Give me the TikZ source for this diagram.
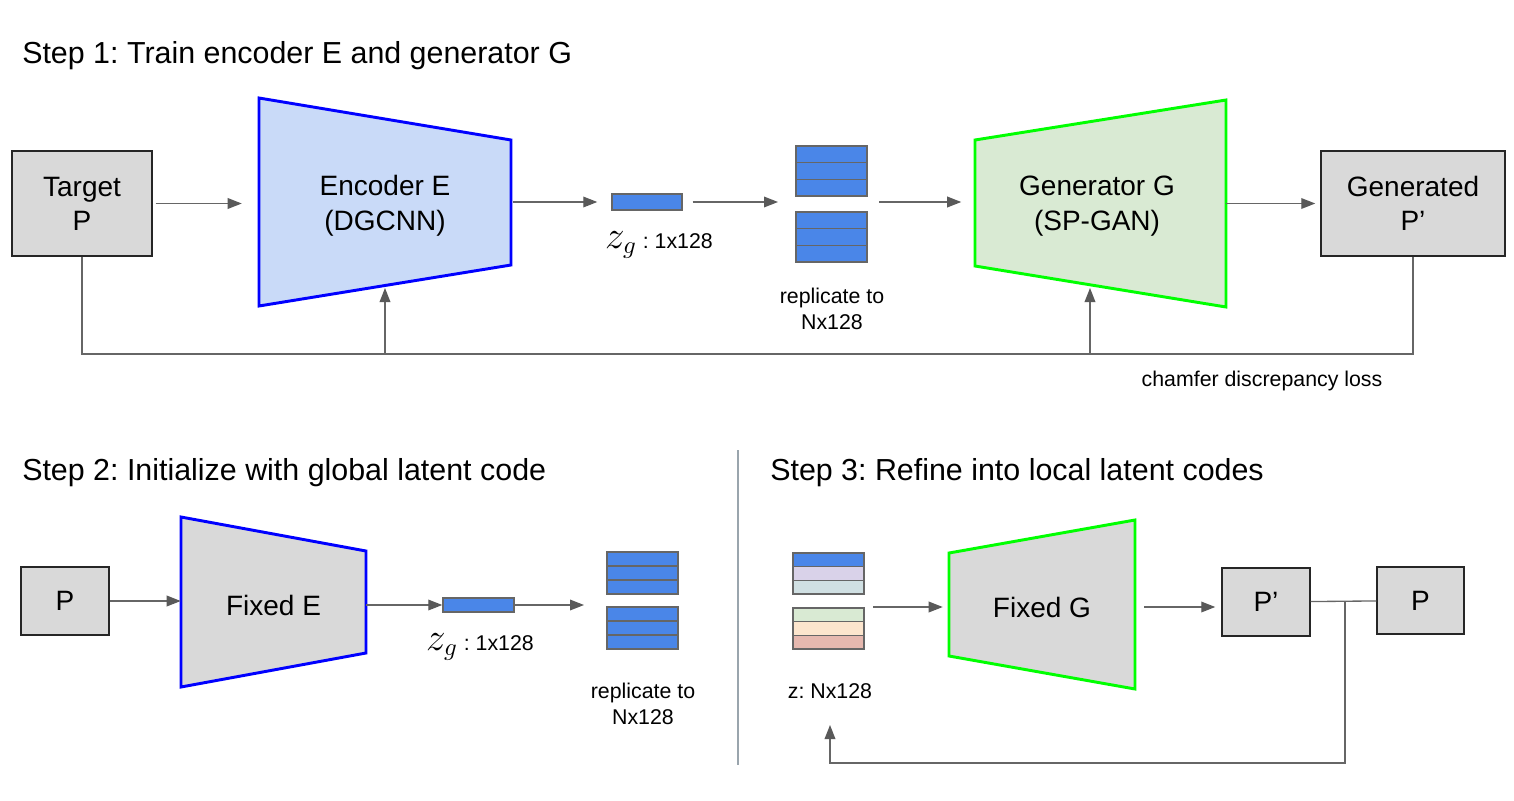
\documentclass[tikz,border=0pt]{standalone}
\usepackage{amsmath}
\usepackage{graphicx}
\usepackage{fontspec}
\setmainfont{Liberation Sans}
\usepackage{xcolor}
\usepackage{tikz}
\usetikzlibrary{calc,arrows.meta,fit}
\frenchspacing
\definecolor{boxgray}{HTML}{D9D9D9}
\definecolor{linegray}{HTML}{666666}
\definecolor{tipgray}{HTML}{595959}
\definecolor{encfill}{HTML}{C9DAF8}
\definecolor{genfill}{HTML}{D9EAD3}
\definecolor{encblue}{HTML}{0000FF}
\definecolor{genlime}{HTML}{00FF00}
\definecolor{zblue}{HTML}{4A86E8}
\definecolor{lav}{HTML}{D9D2E9}
\definecolor{ice}{HTML}{D0E0E3}
\definecolor{mint}{HTML}{D9EAD3}
\definecolor{peach}{HTML}{FCE5CD}
\definecolor{rose}{HTML}{E6B8AF}
\definecolor{divgray}{HTML}{9AA5AD}
\newcommand{\zg}{\scalebox{1.7}{$z_g$}}
\tikzset{
  title/.style={anchor=base west, inner sep=0pt, font=\fontsize{22.8}{27}\selectfont},
  pbox/.style={draw=black!85, fill=boxgray, line width=1.1pt, align=center, inner sep=0pt,
    font=\fontsize{21}{25.5}\selectfont},
  trap/.style={line width=2.2pt, line join=miter},
  lab/.style={align=center, inner sep=0pt, font=\fontsize{21}{26.25}\selectfont},
  note/.style={align=center, inner sep=0pt, font=\fontsize{16}{19.5}\selectfont},
  cell/.style={draw=linegray, line width=1.1pt, minimum width=53.25pt, minimum height=#1, inner sep=0pt},
  cell/.default=12.5pt,
  wire/.style={draw=linegray, line width=1pt},
  flow/.style={wire, -{Triangle[length=10.5pt,width=8pt,color=tipgray]}},
  divider/.style={draw=divgray, line width=1pt},
}
\begin{document}
\begin{tikzpicture}[x=0.75pt, y=-0.75pt]
  \useasboundingbox (0,0) rectangle (1514,800);
  % step 1
  \node[title] (s1) at (22,63) {Step 1: Train encoder E and generator G};
  \node[pbox, minimum width=105pt, minimum height=78.75pt] (tgt) at (82,203.5) {Target\\P};
  \draw[trap, draw=encblue, fill=encfill] (259,98) -- (511,140) -- (511,265) -- (259,306) -- cycle;
  \node[lab, minimum width=189pt] (enc) at (385,206) {Encoder E\\(DGCNN)};
  \node[cell=12pt, fill=zblue, minimum width=52.5pt] (zgA) at (647,202) {};
  \node[note] (zgAl) at (659,245) {\zg\ : 1x128};
  \foreach \i in {0,1,2} {
    \node[cell, fill=zblue] (upA\i) at (831.5,154.3+16.7*\i) {};
    \node[cell, fill=zblue] (loA\i) at (831.5,220.3+16.7*\i) {};
  }
  \node[fit=(upA0)(loA2), inner sep=0pt] (repA) {};
  \node[note] (repAl) at (832,309) {replicate to\\Nx128};
  \draw[trap, draw=genlime, fill=genfill] (975,140) -- (1226,100) -- (1226,307) -- (975,266) -- cycle;
  \node[lab, minimum width=188.25pt] (gen) at (1097,206) {Generator G\\(SP-GAN)};
  \node[pbox, minimum width=138pt, minimum height=78.75pt] (gp) at (1413,203.5) {Generated\\P’};
  \draw[flow, shorten <=2.25pt, shorten >=12.75pt] (tgt) -- (tgt -| enc.west);
  \draw[flow, shorten <=1.5pt, shorten >=10.5pt] (enc.east |- zgA) -- (zgA);
  \draw[flow, shorten <=7.5pt, shorten >=12.75pt] (zgA) -- (zgA -| repA.west);
  \draw[flow, shorten <=8.25pt, shorten >=7.5pt] (repA.east |- zgA) -- (zgA -| gen.west);
  \draw[flow, shorten <=2.25pt, shorten >=3.75pt] (gen.east |- gp) -- (gp);
  % chamfer loss feedback
  \coordinate (fb) at (700,354);
  \coordinate (encB) at (385,288);
  \coordinate (genB) at (1090,288);
  \draw[wire] (tgt.south) |- (fb) -| (gp.south);
  \draw[flow] (encB |- fb) -- (encB);
  \draw[flow] (genB |- fb) -- (genB);
  \node[note] (loss) at (1262,381) {chamfer discrepancy loss};
  % step 2
  \node[title] (s2) at (22,480) {Step 2: Initialize with global latent code};
  \node[pbox, minimum width=66pt, minimum height=51pt] (pA) at (65,601) {P};
  \draw[trap, draw=encblue, fill=boxgray] (181,517) -- (366,551) -- (366,653) -- (181,687) -- cycle;
  \node[lab, minimum width=138.75pt] (fe) at (273.5,605) {Fixed E};
  \node[cell=10.5pt, fill=zblue] (zgB) at (478.5,605) {};
  \node[note] (zgBl) at (480,647) {\zg\ : 1x128};
  \foreach \i in {0,1,2} {
    \node[cell=10.5pt, fill=zblue] (upB\i) at (642.5,559+14*\i) {};
    \node[cell=10.5pt, fill=zblue] (loB\i) at (642.5,614+14*\i) {};
  }
  \node[fit=(upB0)(loB2), inner sep=0pt] (repB) {};
  \node[note] (repBl) at (643,704) {replicate to\\Nx128};
  \draw[flow] (pA) -- (pA -| fe.west);
  \draw[flow] (fe.east |- zgB) -- (zgB);
  \draw[flow, shorten >=16.5pt] (zgB) -- (zgB -| repB.west);
  % divider
  \draw[divider] (738,450) -- (738,765);
  % step 3
  \node[title] (s3) at (770,480) {Step 3: Refine into local latent codes};
  \foreach \i/\c in {0/zblue,1/lav,2/ice} {
    \node[cell=10.3pt, fill=\c] (upC\i) at (828.5,559.8+13.7*\i) {};
  }
  \foreach \i/\c in {0/mint,1/peach,2/rose} {
    \node[cell=10.3pt, fill=\c] (loC\i) at (828.5,614.8+13.7*\i) {};
  }
  \node[fit=(upC0)(loC2), inner sep=0pt] (repC) {};
  \node[note] (zlab) at (830,691) {z: Nx128};
  \draw[trap, draw=genlime, fill=boxgray] (949,553) -- (1135,520) -- (1135,689) -- (949,656) -- cycle;
  \node[lab, minimum width=139.5pt] (fg) at (1042,607) {Fixed G};
  \node[pbox, minimum width=66pt, minimum height=51pt] (pp) at (1266,602) {P’};
  \node[pbox, minimum width=65.25pt, minimum height=50.25pt] (pb) at (1420.5,600.5) {P};
  \draw[flow, shorten <=6pt, shorten >=4.5pt] (repC.east |- fg) -- (fg);
  \draw[flow, shorten <=6.75pt, shorten >=4.5pt] (fg) -- (fg -| pp.west);
  \draw[wire] (pp) -- (pb);
  % refinement feedback
  \coordinate (tap) at (1345,602);
  \coordinate (back) at (830,763);
  \coordinate (zin) at (830,725);
  \draw[flow] (tap) |- (back) -- (zin);
\end{tikzpicture}
\end{document}
